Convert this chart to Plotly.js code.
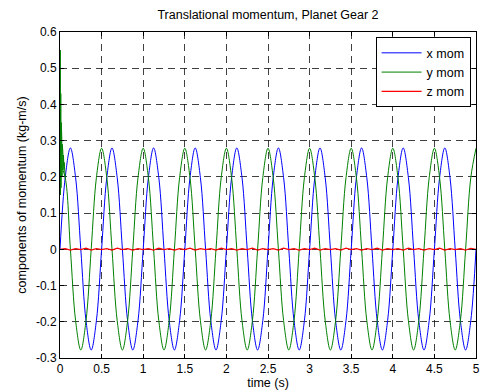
<!DOCTYPE html>
<html>
<head>
<meta charset="utf-8">
<script src="https://cdn.plot.ly/plotly-3.0.1.min.js"></script>
<style>html,body{margin:0;padding:0;background:#fff;}#chart{width:486px;height:392px;}</style>
</head>
<body>
<div id="chart"></div>
<script>
// Sample times (s)
var timeS = [0,0.0625,0.125,0.1875,0.25,0.3125,0.375,0.4375,0.5,0.5625,0.625,0.6875,0.75,0.8125,0.875,0.9375,1,
1.0625,1.125,1.1875,1.25,1.3125,1.375,1.4375,1.5,1.5625,1.625,1.6875,1.75,1.8125,1.875,1.9375,2,
2.0625,2.125,2.1875,2.25,2.3125,2.375,2.4375,2.5,2.5625,2.625,2.6875,2.75,2.8125,2.875,2.9375,3,
3.0625,3.125,3.1875,3.25,3.3125,3.375,3.4375,3.5,3.5625,3.625,3.6875,3.75,3.8125,3.875,3.9375,4,
4.0625,4.125,4.1875,4.25,4.3125,4.375,4.4375,4.5,4.5625,4.625,4.6875,4.75,4.8125,4.875,4.9375,5];

// x momentum (blue)
var xMom = [0,0.198,0.280,0.198,0,-0.197,-0.278,-0.197,0,0.198,0.280,0.198,0,-0.197,-0.278,-0.197,0,
0.198,0.280,0.198,0,-0.197,-0.278,-0.197,0,0.198,0.280,0.198,0,-0.197,-0.278,-0.197,0,
0.198,0.280,0.198,0,-0.197,-0.278,-0.197,0,0.198,0.280,0.198,0,-0.197,-0.278,-0.197,0,
0.198,0.280,0.198,0,-0.197,-0.278,-0.197,0,0.198,0.280,0.198,0,-0.197,-0.278,-0.197,0,
0.198,0.280,0.198,0,-0.197,-0.278,-0.197,0,0.198,0.280,0.198,0,-0.197,-0.278,-0.197,0];

// y momentum (green), steady part
var yMom = [0.240,0.198,0,-0.197,-0.278,-0.197,0,0.198,0.279,0.198,0,-0.197,-0.278,-0.197,0,0.198,0.279,
0.198,0,-0.197,-0.278,-0.197,0,0.198,0.279,0.198,0,-0.197,-0.278,-0.197,0,0.198,0.279,
0.198,0,-0.197,-0.278,-0.197,0,0.198,0.279,0.198,0,-0.197,-0.278,-0.197,0,0.198,0.279,
0.198,0,-0.197,-0.278,-0.197,0,0.198,0.279,0.198,0,-0.197,-0.278,-0.197,0,0.198,0.279,
0.198,0,-0.197,-0.278,-0.197,0,0.198,0.279,0.198,0,-0.197,-0.278,-0.197,0,0.198,0.279];

// y momentum (green), start-up transient
var yStartT = [0,0.003,0.006,0.009,0.012,0.015,0.018,0.021,0.024,0.027,0.030,0.034,0.038,0.042,0.046,0.050,0.0625];
var yStartV = [0.28,0.55,0.15,0.43,0.17,0.35,0.19,0.31,0.20,0.29,0.21,0.27,0.22,0.26,0.23,0.24,0.198];

// z momentum (red)
var zMom = [0.000,0.002,-0.002,0.002,-0.001,0.003,-0.002,0.002,-0.001,0.002,-0.002,0.003,-0.001,0.002,-0.002,0.002,-0.001,
0.002,-0.002,0.003,-0.001,0.002,-0.002,0.002,-0.001,0.003,-0.002,0.002,-0.001,0.002,-0.002,0.003,-0.001,
0.002,-0.002,0.002,-0.001,0.003,-0.002,0.002,-0.001,0.002,-0.002,0.003,-0.001,0.002,-0.002,0.002,-0.001,
0.003,-0.002,0.002,-0.001,0.002,-0.002,0.003,-0.001,0.002,-0.002,0.002,-0.001,0.003,-0.002,0.002,-0.001,
0.002,-0.002,0.003,-0.001,0.002,-0.002,0.002,-0.001,0.003,-0.002,0.002,-0.001,0.002,-0.002,0.003,0.000];

var seriesNames = ['x mom','y mom','z mom'];
var xTickVals = [0,0.5,1,1.5,2,2.5,3,3.5,4,4.5,5];
var xTickText = ['0','0.5','1','1.5','2','2.5','3','3.5','4','4.5','5'];
var yTickVals = [-0.3,-0.2,-0.1,0,0.1,0.2,0.3,0.4,0.5,0.6];
var yTickText = ['-0.3','-0.2','-0.1','0','0.1','0.2','0.3','0.4','0.5','0.6'];

var FONT = 'Liberation Sans, Arial, sans-serif';
var LBL = {family: FONT, size: 12.5, color: '#000'};

var traces = [
  {x: timeS, y: xMom, name: seriesNames[0], mode: 'lines', line: {color: '#0000ff', width: 1, shape: 'spline', smoothing: 1}},
  {x: timeS, y: yMom, name: seriesNames[1], mode: 'lines', legendgroup: 'y', line: {color: '#008000', width: 1, shape: 'spline', smoothing: 1}},
  {x: yStartT, y: yStartV, name: seriesNames[1], mode: 'lines', legendgroup: 'y', showlegend: false, line: {color: '#008000', width: 1}},
  {x: timeS, y: zMom, name: seriesNames[2], mode: 'lines', line: {color: '#ff0000', width: 1.2}}
];

var axisCommon = {
  showline: true, linecolor: '#000', linewidth: 1, mirror: 'ticks',
  ticks: 'inside', ticklen: 4, tickcolor: '#000', tickwidth: 1,
  showgrid: true, gridcolor: '#111', gridwidth: 0.8, griddash: '7px,5px',
  zeroline: false, tickfont: {family: FONT, size: 12, color: '#000'}
};

var layout = {
  width: 486, height: 392,
  margin: {l: 60, r: 10, t: 32, b: 34, pad: 0},
  paper_bgcolor: '#fff', plot_bgcolor: '#fff',
  font: {family: FONT, size: 12, color: '#000'},
  title: {text: 'Translational momentum, Planet Gear 2', font: LBL,
          x: 0.5, xref: 'paper', y: 0.963, yref: 'container', yanchor: 'middle'},
  xaxis: Object.assign({}, axisCommon, {range: [0, 5], tickmode: 'array', tickvals: xTickVals, ticktext: xTickText,
          title: {text: 'time (s)', font: LBL, standoff: 1}}),
  yaxis: Object.assign({}, axisCommon, {range: [-0.3, 0.6], tickmode: 'array', tickvals: yTickVals, ticktext: yTickText,
          title: {text: 'components of momentum (kg-m/s)', font: LBL, standoff: 6}}),
  legend: {x: 0.987, y: 0.984, xanchor: 'right', yanchor: 'top', bgcolor: '#fff', bordercolor: '#000', borderwidth: 1,
           font: LBL, itemwidth: 40, tracegroupgap: 0},
  showlegend: true
};

Plotly.newPlot('chart', traces, layout, {displayModeBar: false, staticPlot: true});
</script>
</body>
</html>
